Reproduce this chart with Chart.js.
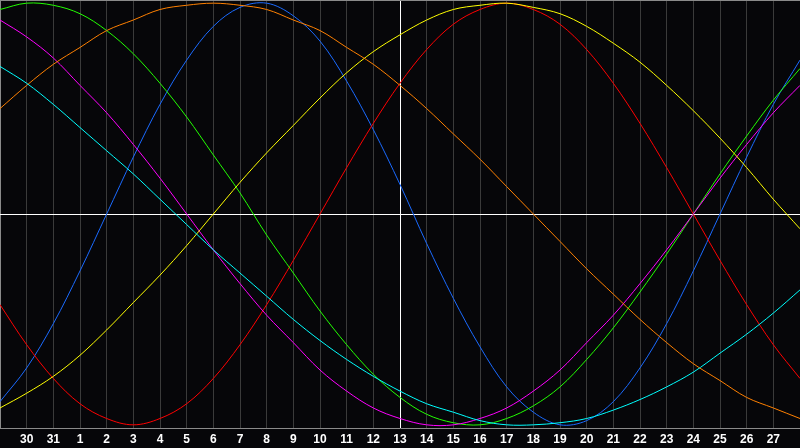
<!DOCTYPE html>
<html>
<head>
<meta charset="utf-8">
<script src="https://cdn.jsdelivr.net/npm/chart.js@4"></script>
<style>
  html, body { margin: 0; padding: 0; background: #060609; }
  canvas { display: block; background: #060609; }
</style>
</head>
<body>
<canvas id="bioChart" width="800" height="448"></canvas>
<script>
// ===================
// dias (eixo x)
// ===================
const days = ["29", "30", "31", "1", "2", "3", "4", "5", "6", "7", "8", "9", "10",
  "11", "12", "13", "14", "15", "16", "17", "18", "19", "20", "21", "22", "23",
  "24", "25", "26", "27", "28"];

// ===================
// ciclos
// ===================
const fisico = [-0.89, -0.73, -0.52, -0.27, 0, 0.27, 0.52, 0.73, 0.89, 0.98, 1.0,
  0.94, 0.82, 0.63, 0.4, 0.14, -0.14, -0.4, -0.63, -0.82, -0.94, -1.0, -0.98,
  -0.89, -0.73, -0.52, -0.27, 0, 0.27, 0.52, 0.73];
const emocional = [-0.43, -0.62, -0.78, -0.9, -0.97, -1.0, -0.97, -0.9, -0.78,
  -0.62, -0.43, -0.22, 0, 0.22, 0.43, 0.62, 0.78, 0.9, 0.97, 1.0, 0.97, 0.9,
  0.78, 0.62, 0.43, 0.22, 0, -0.22, -0.43, -0.62, -0.78];
const intelectual = [0.97, 1.0, 0.99, 0.95, 0.87, 0.76, 0.62, 0.46, 0.28, 0.1,
  -0.1, -0.28, -0.46, -0.62, -0.76, -0.87, -0.95, -0.99, -1.0, -0.97, -0.91,
  -0.82, -0.69, -0.54, -0.37, -0.19, 0, 0.19, 0.37, 0.54, 0.69];
const intuitivo = [0.92, 0.84, 0.74, 0.61, 0.48, 0.33, 0.17, 0, -0.17, -0.33,
  -0.48, -0.61, -0.74, -0.84, -0.92, -0.97, -1.0, -1.0, -0.97, -0.92, -0.84,
  -0.74, -0.61, -0.48, -0.33, -0.17, 0, 0.17, 0.33, 0.48, 0.61];
const estetico = [-0.92, -0.85, -0.77, -0.67, -0.55, -0.42, -0.29, -0.15, 0, 0.15,
  0.29, 0.42, 0.55, 0.67, 0.77, 0.85, 0.92, 0.97, 0.99, 1.0, 0.98, 0.95, 0.89,
  0.81, 0.72, 0.61, 0.49, 0.36, 0.22, 0.07, -0.07];
const consciencia = [0.5, 0.61, 0.71, 0.79, 0.87, 0.92, 0.97, 0.99, 1.0, 0.99,
  0.97, 0.92, 0.87, 0.79, 0.71, 0.61, 0.5, 0.38, 0.26, 0.13, 0, -0.13, -0.26,
  -0.38, -0.5, -0.61, -0.71, -0.79, -0.87, -0.92, -0.97];
const espiritual = [0.7, 0.62, 0.52, 0.41, 0.3, 0.19, 0.07, -0.05, -0.17, -0.28,
  -0.39, -0.5, -0.6, -0.69, -0.77, -0.84, -0.9, -0.94, -0.98, -1.0, -1.0, -0.99,
  -0.97, -0.93, -0.88, -0.82, -0.75, -0.66, -0.57, -0.47, -0.36];

const hoje = "13"; // linha branca vertical

function serie(label, data, cor) {
  return {
    label: label,
    data: data,
    borderColor: cor,
    borderWidth: 1,
    pointRadius: 0,
    pointHoverRadius: 0,
    pointBorderWidth: 0,
    tension: 0.35,
    fill: false,
  };
}

const bioChart = new Chart(document.getElementById("bioChart"), {
  type: "line",
  data: {
    labels: days,
    datasets: [
      serie("Espiritual", espiritual, "#00ffff"),
      serie("Consciencia", consciencia, "#ff8000"),
      serie("Estetico", estetico, "#ffff00"),
      serie("Intuitivo", intuitivo, "#ff00ff"),
      serie("Intelectual", intelectual, "#22ff00"),
      serie("Emocional", emocional, "#ff0000"),
      serie("Fisico", fisico, "#1a6aff"),
    ],
  },
  options: {
    responsive: false,
    animation: false,
    devicePixelRatio: 1,
    layout: { autoPadding: false, padding: 0 },
    plugins: {
      legend: { display: false },
      tooltip: { enabled: false },
    },
    scales: {
      x: {
        offset: false,
        afterFit: (scale) => {
          // grade de ponta a ponta, faixa de rotulos com 20px
          scale.paddingLeft = 0;
          scale.paddingRight = 0;
          scale.height = 20;
        },
        border: { display: true, color: "#8a8a8a", width: 1 },
        grid: {
          drawTicks: false,
          lineWidth: 1,
          color: (ctx) => {
            const i = ctx.index;
            if (i === 0) return "#8a8a8a";
            if (i === days.length - 1) return "rgba(0,0,0,0)";
            if (days[i] === hoje) return "#ffffff";
            return "#3a3a3a";
          },
        },
        ticks: {
          autoSkip: false,
          maxRotation: 0,
          padding: 4,
          color: "#ffffff",
          font: { family: "Liberation Sans", size: 12, weight: "bold" },
          callback: function (value, index) {
            if (index === 0 || index === days.length - 1) return "";
            return days[index];
          },
        },
      },
      y: {
        min: -1.015,
        max: 1.015,
        border: { display: false },
        afterBuildTicks: (scale) => {
          scale.ticks = [{ value: -1.015 }, { value: 0 }, { value: 1.015 }];
        },
        grid: {
          drawTicks: false,
          color: (ctx) => {
            if (ctx.tick.value === 0) return "#ffffff";
            if (ctx.tick.value > 0) return "#8a8a8a";
            return "rgba(0,0,0,0)";
          },
        },
        ticks: { display: false },
      },
    },
  },
});
</script>
</body>
</html>
